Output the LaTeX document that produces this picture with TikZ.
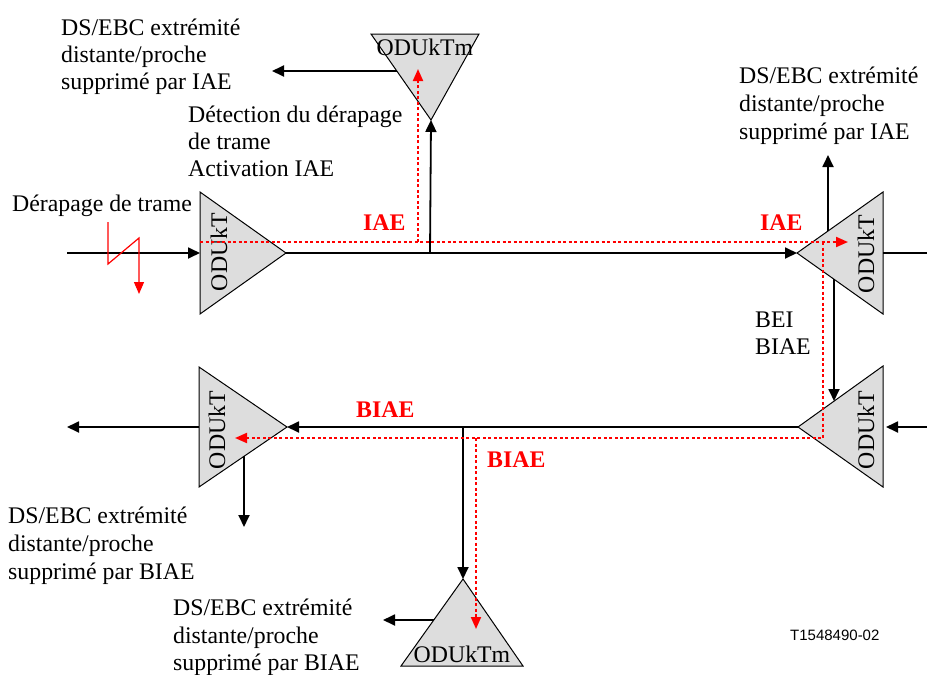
\documentclass[tikz,border=0pt]{standalone}
\usepackage{fontspec}
\setmainfont{Liberation Serif}
\newfontfamily\labsans{Liberation Sans}
\usetikzlibrary{arrows.meta}
\definecolor{triGray}{RGB}{221,221,221}
\begin{document}
\begin{tikzpicture}[x=1pt,y=-1pt,
  tri/.style={draw=black,fill=triGray,line width=1pt,line join=miter},
  conn/.style={line width=1.8pt,-{Triangle[length=12pt,width=11pt]}},
  plainconn/.style={line width=1.8pt},
  redp/.style={red,line width=2pt,dash pattern=on 3pt off 2.5pt,-{Triangle[length=12pt,width=10pt]}},
  redz/.style={red,line width=1.2pt,-{Triangle[length=12pt,width=10pt]}},
  lbl/.style={anchor=base west,inner sep=0pt,font=\fontsize{23.8}{27}\selectfont},
  redlbl/.style={anchor=base west,inner sep=0pt,text=red,font=\fontsize{23.8}{27}\selectfont\bfseries},
  odu/.style={inner sep=0pt,font=\fontsize{23.8}{27}\selectfont}
]
\clip (0,0) rectangle (927,675);
\fill[white] (0,0) rectangle (927,675);

% triangle corners
\coordinate (a1) at (200,192); \coordinate (b1) at (200,314); \coordinate (p1) at (286,253);
\coordinate (a2) at (883,192); \coordinate (b2) at (883,314); \coordinate (p2) at (797,253);
\coordinate (a3) at (883,366); \coordinate (b3) at (883,487); \coordinate (p3) at (798,427);
\coordinate (a4) at (199,367); \coordinate (b4) at (199,487); \coordinate (p4) at (287,427);
\coordinate (m1a) at (371,34); \coordinate (m1b) at (479,34); \coordinate (m1p) at (431,120);
\coordinate (m2p) at (463,579); \coordinate (m2a) at (401,666); \coordinate (m2b) at (523,666);

\draw[tri] (a1) -- (b1) -- (p1) -- cycle;
\draw[tri] (a2) -- (b2) -- (p2) -- cycle;
\draw[tri] (a3) -- (b3) -- (p3) -- cycle;
\draw[tri] (a4) -- (b4) -- (p4) -- cycle;
\draw[tri] (m1a) -- (m1b) -- (m1p) -- cycle;
\draw[tri] (m2p) -- (m2a) -- (m2b) -- cycle;

\node[odu,rotate=90] (t1) at (219,252) {ODUkT};
\node[odu,rotate=90] (t2) at (866,254) {ODUkT};
\node[odu,rotate=90] (t3) at (866,430) {ODUkT};
\node[odu,rotate=90] (t4) at (217,430) {ODUkT};
\node[odu,anchor=base] (tm1) at (425,55) {ODUkTm};
\node[odu,anchor=base] (tm2) at (462,662) {ODUkTm};

% connector points
\coordinate (in1) at (67,253);
\coordinate (j1) at (430,253);
\coordinate (m1left) at (397,71);
\coordinate (m1out) at (272,71);
\coordinate (t2right) at (883,253);
\coordinate (out2) at (940,253);
\coordinate (t2up) at (828,231);
\coordinate (up2) at (828,155);
\coordinate (t2dn) at (834,279);
\coordinate (t3in) at (834,401);
\coordinate (in3) at (932,427);
\coordinate (t3right) at (886,427);
\coordinate (j2) at (463,427);
\coordinate (out4) at (67,427);
\coordinate (t4dn) at (244,456);
\coordinate (dn4) at (244,527);
\coordinate (m2left) at (434,620);
\coordinate (m2out) at (383,620);

% black connectors
\draw[conn] (in1) -- (a1 |- p1);
\draw[conn] (p1) -- (p2);
\draw[conn] (j1) -- (m1p);
\draw[conn] (m1left) -- (m1out);
\draw[conn] (t2right) -- (out2);
\draw[conn] (t2up) -- (up2);
\draw[conn] (t2dn) -- (t3in);
\draw[conn] (in3) -- (t3right);
\draw[conn] (p3) -- (p4);
\draw[conn] (a4 |- p4) -- (out4);
\draw[conn] (t4dn) -- (dn4);
\draw[conn] (j2) -- (m2p);
\draw[conn] (m2left) -- (m2out);

% red paths
\coordinate (z1) at (108,222); \coordinate (z2) at (108,264);
\coordinate (z3) at (139,238); \coordinate (z4) at (139,294);
\draw[redz] (z1) -- (z2) -- (z3) -- (z4);
\coordinate (r1s) at (200,242); \coordinate (r1e) at (848,242);
\draw[redp] (r1s) -- (r1e);
\coordinate (r2s) at (418,242); \coordinate (r2e) at (418,69);
\draw[redp] (r2s) -- (r2e);
\coordinate (r3s) at (823,242); \coordinate (r3c) at (823,438); \coordinate (r3e) at (235,438);
\draw[redp] (r3s) -- (r3c) -- (r3e);
\coordinate (r4s) at (476,438); \coordinate (r4e) at (476,629);
\draw[redp] (r4s) -- (r4e);

% labels
\node[lbl] (l1a) at (61,35) {DS/EBC extrémité};
\node[lbl] (l1b) at (61,62) {distante/proche};
\node[lbl] (l1c) at (61,89) {supprimé par IAE};

\node[lbl] (l2a) at (188,122) {Détection du dérapage};
\node[lbl] (l2b) at (188,149) {de trame};
\node[lbl] (l2c) at (188,176) {Activation IAE};

\node[lbl] (l3a) at (739,83) {DS/EBC extrémité};
\node[lbl] (l3b) at (739,111) {distante/proche};
\node[lbl] (l3c) at (739,139) {supprimé par IAE};

\node[lbl] (l4) at (12,211) {Dérapage de trame};

\node[lbl] (l5a) at (755,327) {BEI};
\node[lbl] (l5b) at (755,354) {BIAE};

\node[lbl] (l6a) at (8,523) {DS/EBC extrémité};
\node[lbl] (l6b) at (8,551) {distante/proche};
\node[lbl] (l6c) at (8,579) {supprimé par BIAE};

\node[lbl] (l7a) at (173,615) {DS/EBC extrémité};
\node[lbl] (l7b) at (173,643) {distante/proche};
\node[lbl] (l7c) at (173,670) {supprimé par BIAE};

\node[redlbl] (iae1) at (363,230) {IAE};
\node[redlbl] (iae2) at (760,230) {IAE};
\node[redlbl] (biae1) at (356,417) {BIAE};
\node[redlbl] (biae2) at (487,467) {BIAE};

\node[anchor=base west,inner sep=0pt,font=\labsans\fontsize{15}{18}\selectfont] (ref) at (790,640) {T1548490-02};
\end{tikzpicture}
\end{document}
